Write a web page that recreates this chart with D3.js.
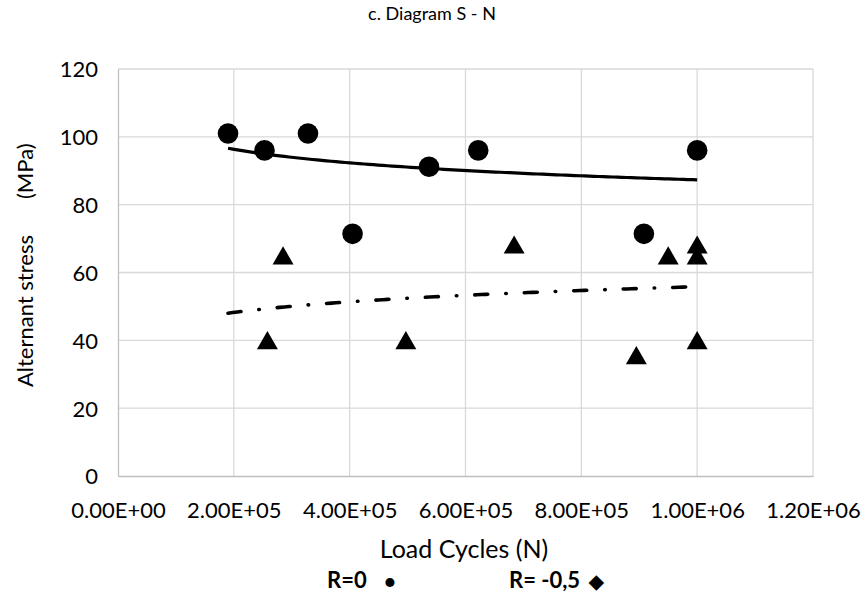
<!DOCTYPE html>
<html>
<head>
<meta charset="utf-8">
<script src="https://cdn.jsdelivr.net/npm/d3@7"></script>
<style>
  html, body { margin: 0; padding: 0; background: #fff; }
  svg text { font-family: Lato, "Open Sans", sans-serif; fill: #000; }
</style>
</head>
<body>
<svg id="chart" width="865" height="603"></svg>
<script>
// ---- data ----
const title = "c. Diagram S - N";
const xTitle = "Load Cycles (N)";
const yTitleParts = ["Alternant stress", "(MPa)"];
const xTicks = [0, 200000, 400000, 600000, 800000, 1000000, 1200000];
const xTickLabels = ["0.00E+00", "2.00E+05", "4.00E+05", "6.00E+05", "8.00E+05", "1.00E+06", "1.20E+06"];
const yTicks = [0, 20, 40, 60, 80, 100, 120];

// R = 0 series (circles)
const r0Cycles = [190000, 253000, 328000, 405000, 537000, 622000, 908000, 1000000];
const r0Stress = [101, 96, 101, 71.4, 91.2, 96, 71.4, 96];

// R = -0.5 series (triangles)
const rm05Cycles = [258000, 285000, 497000, 684000, 895000, 950000, 1000000, 1000000, 1000000];
const rm05Stress = [39.6, 64.6, 39.6, 67.8, 35.2, 64.6, 67.8, 64.6, 39.6];

// power trendlines y = a * x^b
const trendRange = [190000, 1000000];
const trendR0 = { a: 202.8, b: -0.061 };
const trendRm05 = { a: 15.94, b: 0.0907 };

const legendLabels = ["R=0", "R= -0,5"];
const legendSymbols = ["\u25CF", "\u25C6"];

// ---- layout ----
const svg = d3.select("#chart");
const m = { left: 118, right: 813, top: 69, bottom: 476 };

const x = d3.scaleLinear().domain([0, 1200000]).range([m.left, m.right]);
const y = d3.scaleLinear().domain([0, 120]).range([m.bottom, m.top]);

// gridlines
const grid = svg.append("g");
grid.selectAll("line.h").data(yTicks.filter(d => d > 0)).join("line")
  .attr("x1", m.left).attr("x2", m.right)
  .attr("y1", d => y(d)).attr("y2", d => y(d))
  .attr("stroke", "#d9d9d9").attr("stroke-width", 1.3);
grid.selectAll("line.v").data(xTicks.filter(d => d > 0)).join("line")
  .attr("y1", m.top).attr("y2", m.bottom)
  .attr("x1", d => x(d)).attr("x2", d => x(d))
  .attr("stroke", "#d9d9d9").attr("stroke-width", 1.3);

// axes
const xAxis = d3.axisBottom(x).tickValues(xTicks).tickSize(0)
  .tickFormat((d, i) => xTickLabels[i]);
const gx = svg.append("g").attr("transform", `translate(0,${m.bottom})`).call(xAxis);
gx.select(".domain").attr("stroke", "#bfbfbf").attr("stroke-width", 1.3);
gx.selectAll("text").attr("font-size", 22).attr("dy", 0).attr("y", 42);

const yAxis = d3.axisLeft(y).tickValues(yTicks).tickSize(0);
const gy = svg.append("g").attr("transform", `translate(${m.left},0)`).call(yAxis);
gy.select(".domain").attr("stroke", "#bfbfbf").attr("stroke-width", 1.3);
gy.selectAll("text").attr("font-size", 22).attr("x", -20).attr("dy", "0.36em");

// trendlines
const sample = (t) => d3.range(0, 101).map(i => {
  const xv = trendRange[0] + (trendRange[1] - trendRange[0]) * i / 100;
  return [xv, t.a * Math.pow(xv, t.b)];
});
const line = d3.line().x(d => x(d[0])).y(d => y(d[1]));
svg.append("path").attr("d", line(sample(trendR0)))
  .attr("fill", "none").attr("stroke", "#000").attr("stroke-width", 3.2);
svg.append("path").attr("d", line(sample(trendRm05)))
  .attr("fill", "none").attr("stroke", "#000").attr("stroke-width", 3.6)
  .attr("stroke-linecap", "round").attr("stroke-dasharray", "13,18,0.5,18");

// markers
const r0 = r0Cycles.map((c, i) => ({ c, s: r0Stress[i] }));
const rm = rm05Cycles.map((c, i) => ({ c, s: rm05Stress[i] }));
svg.append("g").selectAll("circle").data(r0).join("circle")
  .attr("cx", d => x(d.c)).attr("cy", d => y(d.s)).attr("r", 10.3).attr("fill", "#000");
const tri = d3.symbol().type(d3.symbolTriangle).size(190);
svg.append("g").selectAll("path").data(rm).join("path")
  .attr("d", tri).attr("transform", d => `translate(${x(d.c)},${y(d.s) + 1.5})`)
  .attr("fill", "#000");

// titles
svg.append("text").attr("x", 432).attr("y", 20).attr("text-anchor", "middle")
  .attr("font-size", 18).text(title);
svg.append("text").attr("x", 464).attr("y", 558).attr("text-anchor", "middle")
  .attr("font-size", 25).text(xTitle);
const yt = svg.append("text").attr("transform", `translate(33,387) rotate(-90)`)
  .attr("text-anchor", "start").attr("font-size", 22);
yt.append("tspan").text(yTitleParts[0]);
yt.append("tspan").attr("dx", 36).text(yTitleParts[1]);

// legend
const lg = svg.append("g").attr("font-weight", "bold");
const lx = [327, 509];
const sx = [390, 596];
legendLabels.forEach((lab, i) => {
  lg.append("text").attr("x", lx[i]).attr("y", 588).attr("font-size", 22).text(lab);
  lg.append("text").attr("x", sx[i]).attr("y", 588).attr("text-anchor", "middle")
    .attr("font-size", i === 0 ? 18 : 19).text(legendSymbols[i]);
});
</script>
</body>
</html>
